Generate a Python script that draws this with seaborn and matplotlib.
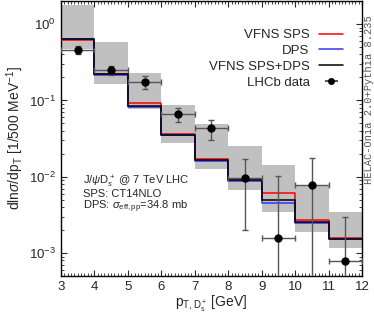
import numpy as np
import matplotlib
matplotlib.use("Agg")
import matplotlib.pyplot as plt
import seaborn as sns
from matplotlib.lines import Line2D
from matplotlib.ticker import MultipleLocator, LogLocator, NullFormatter

# ---- data ----
edges = [3, 4, 5, 6, 7, 8, 9, 10, 11, 12]
centers = [3.5, 4.5, 5.5, 6.5, 7.5, 8.5, 9.5, 10.5, 11.5]
band_lo = [0.465, 0.162, 0.076, 0.0274, 0.0126, 0.0067, 0.0035, 0.0019, 0.00117]
band_hi = [1.78, 0.59, 0.229, 0.086, 0.049, 0.0256, 0.01425, 0.0079, 0.00346]
vfns_sps = [0.62, 0.224, 0.0934, 0.0365, 0.0170, 0.0094, 0.0061, 0.00274, 0.00158]
dps = [0.645, 0.215, 0.0816, 0.0350, 0.0162, 0.0087, 0.00451, 0.00248, 0.00151]
sps_dps = [0.635, 0.219, 0.0845, 0.0355, 0.0164, 0.0090, 0.00498, 0.00256, 0.00153]
lhcb = [0.46, 0.248, 0.174, 0.0660, 0.0432, 0.0095, 0.00158, 0.00778, 0.00079]
lhcb_err = [0.06, 0.035, 0.032, 0.0145, 0.0125, 0.0075, 0.0085, 0.0098, 0.0022]
lhcb_xerr = [0.5] * 9

sns.set_style("ticks")
plt.rcParams["font.family"] = ["Liberation Sans", "DejaVu Sans"]
plt.rcParams["mathtext.fontset"] = "custom"
plt.rcParams["mathtext.rm"] = "Liberation Sans"
plt.rcParams["mathtext.it"] = "Liberation Sans:italic"
plt.rcParams["mathtext.sf"] = "Liberation Sans"

fig = plt.figure(figsize=(3.74, 3.2), dpi=100)
ax = fig.add_axes([0.163, 0.1375, 0.805, 0.859])
ax.set_yscale("log")

# grey uncertainty band
widths = np.diff(edges)
ax.bar(edges[:-1], np.array(band_hi) - np.array(band_lo), bottom=band_lo,
       width=widths, align="edge", color="#c0c0c0", linewidth=0, zorder=1)

# histogram lines
for vals, col in [(vfns_sps, "#ff0000"), (dps, "#3333ff"), (sps_dps, "#000000")]:
    sns.histplot(x=centers, weights=vals, bins=edges, element="step", fill=False,
                 color=col, linewidth=1.1, ax=ax, zorder=3)

# data
ax.errorbar(centers, lhcb, yerr=lhcb_err, xerr=lhcb_xerr, fmt="o", color="black",
            ecolor="#555555", elinewidth=1.0, capsize=2, markersize=5, zorder=5)

ax.set_xlim(3, 12)
ax.set_ylim(5e-4, 2)
ax.xaxis.set_major_locator(MultipleLocator(1))
ax.xaxis.set_minor_locator(MultipleLocator(0.1))
ax.yaxis.set_minor_locator(LogLocator(base=10, subs=np.arange(2, 10), numticks=20))
ax.yaxis.set_minor_formatter(NullFormatter())
ax.tick_params(which="both", direction="in", top=True, right=True, labelsize=9.5)
ax.tick_params(which="major", length=4, width=0.8)
ax.tick_params(which="minor", length=2, width=0.6)
for s in ax.spines.values():
    s.set_linewidth(1.0)
    s.set_color("black")

ax.set_xlabel(r"p$_{\rm T,D_s^+}$ [GeV]", fontsize=10, labelpad=1)
ax.set_ylabel(r"dln$\sigma$/dp$_{\rm T}$ [1/500 MeV$^{-1}$]", fontsize=10, labelpad=2)

handles = [Line2D([], [], color="#ff0000", lw=1.1),
           Line2D([], [], color="#3333ff", lw=1.1),
           Line2D([], [], color="black", lw=1.1),
           ax.errorbar([], [], xerr=[], fmt="o", color="black", ecolor="#555555",
                       markersize=4, capsize=2)]
labels = ["VFNS SPS", "DPS", "VFNS SPS+DPS", "LHCb data"]
ax.legend(handles, labels, loc="upper right", bbox_to_anchor=(0.955, 0.918),
          frameon=False, markerfirst=False, fontsize=9.5, handlelength=1.8,
          labelspacing=0.27, borderaxespad=0, handletextpad=0.75)

fs = 8
ax.text(0.073, 0.342, r"J/$\psi$D$_s^+$ @ 7 TeV LHC", transform=ax.transAxes,
        fontsize=fs, va="center")
ax.text(0.073, 0.298, "SPS: CT14NLO", transform=ax.transAxes, fontsize=fs, va="center")
ax.text(0.073, 0.253, r"DPS: $\sigma_{\rm eff,pp}$=34.8 mb", transform=ax.transAxes,
        fontsize=fs, va="center")

fig.text(0.986, 0.69, "HELAC-Onia 2.0+Pythia 8.235", rotation=90, ha="center",
         va="center", fontsize=7.5, family="Liberation Mono", color="#555555")

fig.savefig("out.png", dpi=100)
